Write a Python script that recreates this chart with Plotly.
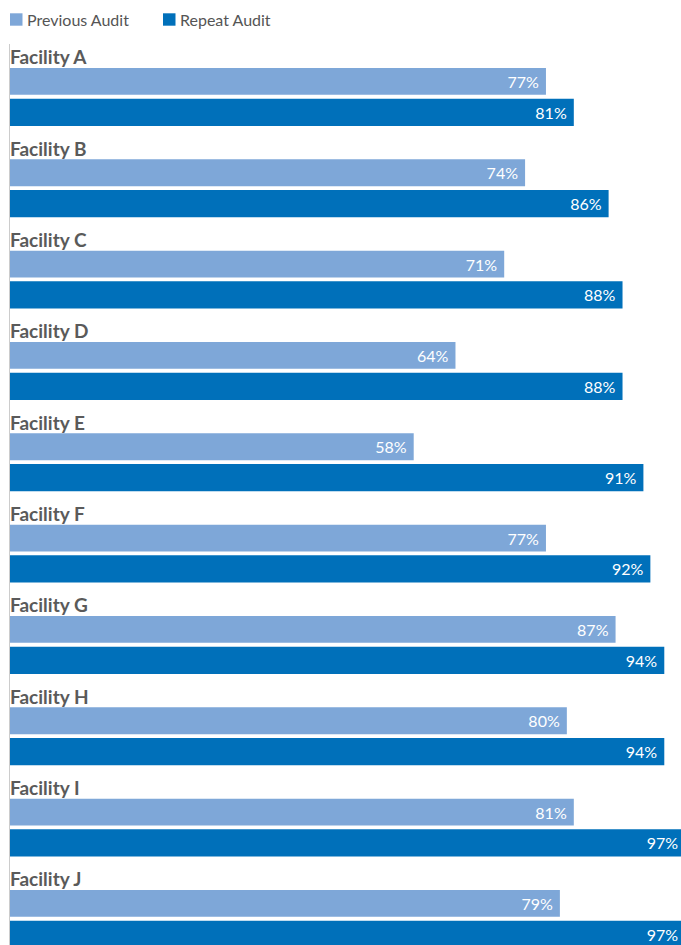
import plotly.graph_objects as go

facilities = ["Facility A", "Facility B", "Facility C", "Facility D", "Facility E",
              "Facility F", "Facility G", "Facility H", "Facility I", "Facility J"]
previous_audit = [77, 74, 71, 64, 58, 77, 87, 80, 81, 79]
repeat_audit = [81, 86, 88, 88, 91, 92, 94, 94, 97, 97]

LIGHT = "#7ea7d8"
DARK = "#0070ba"
FONT = "Lato"

fig = go.Figure()
fig.add_trace(go.Bar(
    name="Previous Audit", y=facilities, x=previous_audit, orientation="h",
    marker=dict(color=LIGHT, line=dict(width=0)),
    offset=-0.2373, width=0.2935,
    text=[f"{v}%\u00a0" for v in previous_audit],
    textposition="inside", insidetextanchor="end", textangle=0,
    insidetextfont=dict(family=FONT, size=16, color="white"),
    hoverinfo="skip",
))
fig.add_trace(go.Bar(
    name="Repeat Audit", y=facilities, x=repeat_audit, orientation="h",
    marker=dict(color=DARK, line=dict(width=0)),
    offset=0.0989, width=0.2977,
    text=[f"{v}%\u00a0" for v in repeat_audit],
    textposition="inside", insidetextanchor="end", textangle=0,
    insidetextfont=dict(family=FONT, size=16, color="white"),
    hoverinfo="skip",
))

annotations = []
for f in facilities:
    annotations.append(dict(
        x=0, xref="paper", xanchor="left", xshift=-2, y=f, yref="y", yanchor="middle",
        yshift=33, text=f"<b>{f}</b>", showarrow=False,
        font=dict(family=FONT, size=19, color="#5a5a5a"),
    ))

# manual legend
shapes = []
for i, (name, col, px) in enumerate([("Previous Audit", LIGHT, 0), ("Repeat Audit", DARK, 153)]):
    shapes.append(dict(
        type="rect", xref="paper", yref="paper",
        xsizemode="pixel", ysizemode="pixel", xanchor=0, yanchor=1,
        x0=px, x1=px + 12.5, y0=18.3, y1=30.7,
        fillcolor=col, line=dict(width=0),
    ))
    annotations.append(dict(
        x=0, xref="paper", xanchor="left", xshift=px + 15,
        y=1, yref="paper", yanchor="middle", yshift=25,
        text=name, showarrow=False,
        font=dict(family=FONT, size=16, color="#555555"),
    ))

fig.update_layout(
    width=681, height=945,
    margin=dict(l=10, r=0, t=44, b=0, pad=0),
    paper_bgcolor="white", plot_bgcolor="white",
    barmode="overlay", showlegend=False,
    xaxis=dict(range=[0, 96.4], visible=False, fixedrange=True),
    yaxis=dict(range=[9.365, -0.5], showticklabels=False, showgrid=False,
               zeroline=False, showline=True, linecolor="#cccccc", linewidth=1,
               ticks="", fixedrange=True),
    annotations=annotations, shapes=shapes,
)

fig.write_html(
    "out.html",
    config={"displayModeBar": False},
    post_script="document.body.style.margin='0';document.documentElement.style.overflow='hidden';document.body.style.overflow='hidden';",
)
